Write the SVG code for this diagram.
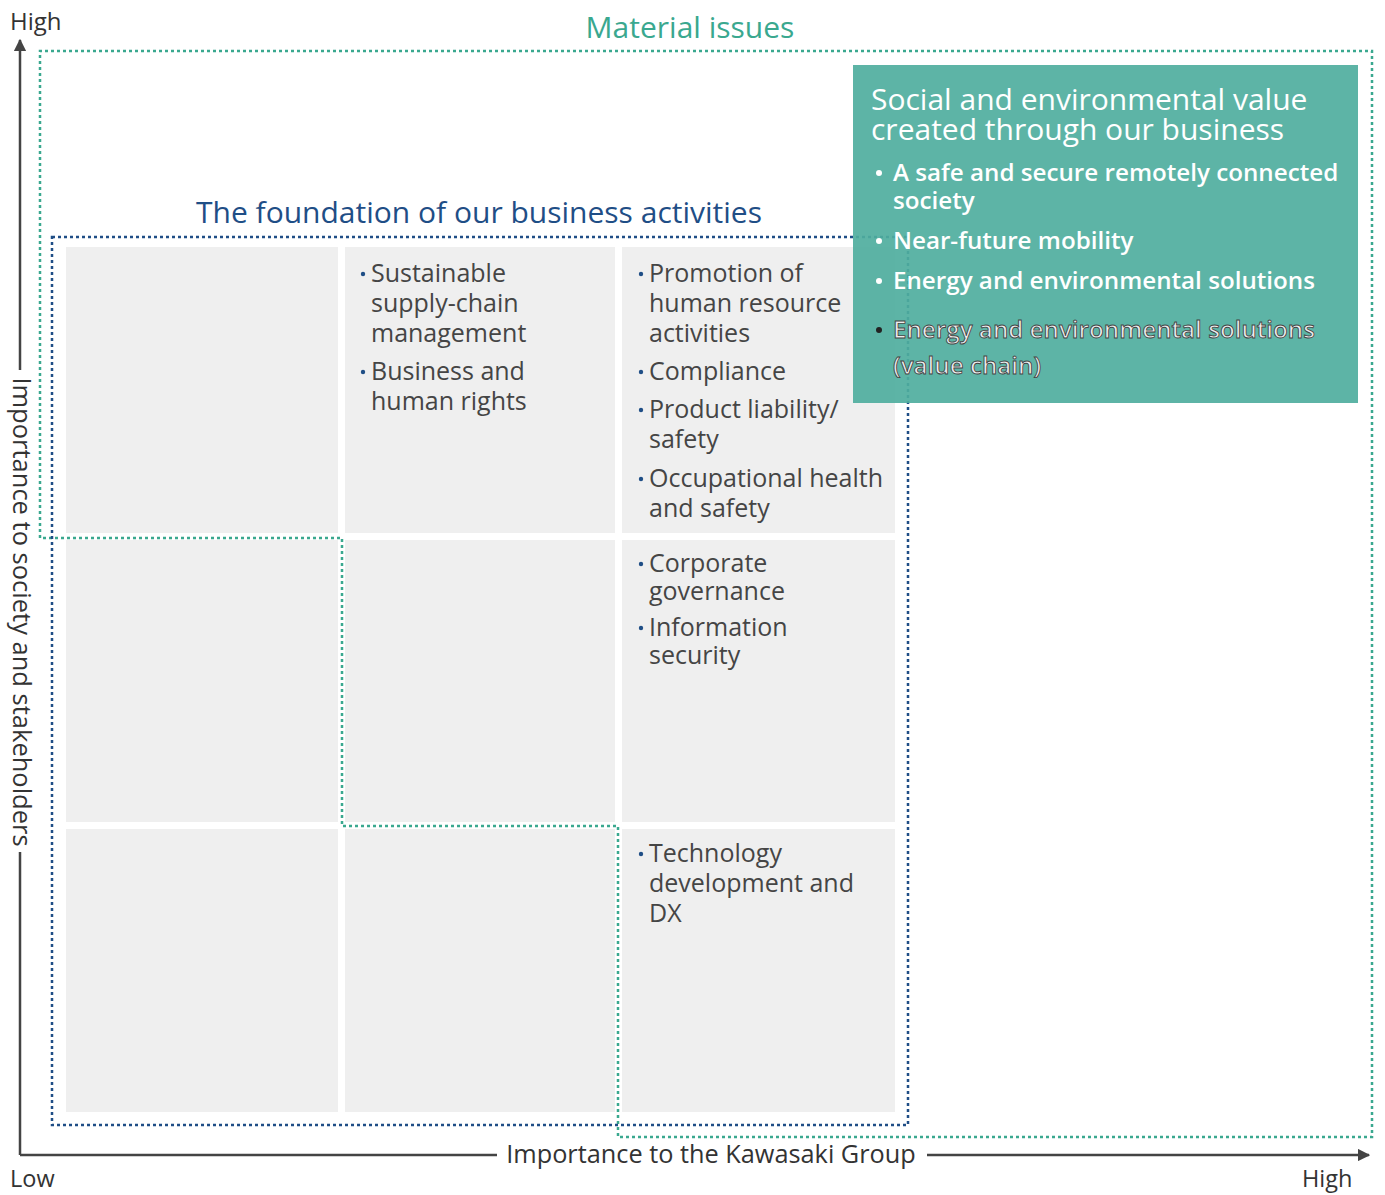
<svg xmlns="http://www.w3.org/2000/svg" width="1385" height="1195" viewBox="0 0 1385 1195">
<style>
.t{font-family:"Open Sans","Liberation Sans",Arial,sans-serif;}
.cell{fill:#efefef;}
.ct{font-family:"Open Sans","Liberation Sans",Arial,sans-serif;font-size:25px;fill:#454545;}
.bl{fill:#1f4e86;}
.gt{font-family:"Open Sans","Liberation Sans",Arial,sans-serif;fill:#ffffff;}
.gb{font-family:"Open Sans","Liberation Sans",Arial,sans-serif;fill:#ffffff;font-size:24.2px;font-weight:600;}
.axis{stroke:#444;stroke-width:2.5;fill:none;}
.gd{stroke:#3aa88f;stroke-width:2.5;fill:none;stroke-dasharray:3 3;}
.bd{stroke:#1f4e86;stroke-width:2.5;fill:none;stroke-dasharray:3 3;}
.ol{font-family:"Open Sans","Liberation Sans",Arial,sans-serif;font-size:24.2px;font-weight:600;fill:#eeeeee;stroke:#444;stroke-width:0.9;}
</style>
<defs>
<marker id="ah" viewBox="0 0 10 10" refX="9" refY="5" markerWidth="5" markerHeight="5" orient="auto" markerUnits="strokeWidth">
<path d="M0,0 L10,5 L0,10 z" fill="#444"/>
</marker>
</defs>
<rect width="1385" height="1195" fill="#ffffff"/>

<g id="cells">
<rect class="cell" x="66" y="247" width="272" height="286"/>
<rect class="cell" x="345" y="247" width="270" height="286"/>
<rect class="cell" x="622" y="247" width="273" height="286"/>
<rect class="cell" x="66" y="540" width="272" height="282"/>
<rect class="cell" x="345" y="540" width="270" height="282"/>
<rect class="cell" x="622" y="540" width="273" height="282"/>
<rect class="cell" x="66" y="829" width="272" height="283"/>
<rect class="cell" x="345" y="829" width="270" height="283"/>
<rect class="cell" x="622" y="829" width="273" height="283"/>
</g>

<g id="connectors">
<path class="axis" d="M20,1155 V852"/>
<path class="axis" d="M20,370 V40" marker-end="url(#ah)"/>
<path class="axis" d="M20,1155 H497"/>
<path class="axis" d="M927,1155 H1369" marker-end="url(#ah)"/>
</g>

<g id="material-border">
<path class="gd" d="M40,538 V51 H1372 V1137 H618 V826 H342 V538 Z"/>
</g>
<g id="foundation-border">
<rect class="bd" x="52" y="237" width="856" height="888"/>
</g>

<g id="axis-labels">
<text class="t" x="10" y="30" font-size="24" fill="#333">High</text>
<text class="t" x="10" y="1187" font-size="23.5" fill="#333">Low</text>
<text class="t" x="1302" y="1187" font-size="23.5" fill="#333">High</text>
<text class="t" x="711" y="1163" font-size="25.3" fill="#333" text-anchor="middle">Importance to the Kawasaki Group</text>
<text class="t" transform="translate(13,612) rotate(90)" font-size="25.5" fill="#333" text-anchor="middle">Importance to society and stakeholders</text>
</g>

<g id="titles">
<text class="t" x="690" y="38" font-size="30" fill="#3aa88f" text-anchor="middle">Material issues</text>
<text class="t" x="479" y="223" font-size="30" fill="#1f4e86" text-anchor="middle">The foundation of our business activities</text>
</g>

<g id="cell-r1c2">
<circle class="bl" cx="363" cy="274" r="2.2"/>
<text class="ct" x="371" y="282">Sustainable</text>
<text class="ct" x="371" y="312">supply-chain</text>
<text class="ct" x="371" y="342">management</text>
<circle class="bl" cx="363" cy="372" r="2.2"/>
<text class="ct" x="371" y="380">Business and</text>
<text class="ct" x="371" y="410">human rights</text>
</g>

<g id="cell-r1c3">
<circle class="bl" cx="641" cy="274" r="2.2"/>
<text class="ct" x="649" y="282">Promotion of</text>
<text class="ct" x="649" y="312">human resource</text>
<text class="ct" x="649" y="342">activities</text>
<circle class="bl" cx="641" cy="372" r="2.2"/>
<text class="ct" x="649" y="380">Compliance</text>
<circle class="bl" cx="641" cy="410" r="2.2"/>
<text class="ct" x="649" y="418">Product liability/</text>
<text class="ct" x="649" y="448">safety</text>
<circle class="bl" cx="641" cy="479" r="2.2"/>
<text class="ct" x="649" y="487">Occupational health</text>
<text class="ct" x="649" y="517">and safety</text>
</g>

<g id="cell-r2c3">
<circle class="bl" cx="641" cy="564" r="2.2"/>
<text class="ct" x="649" y="572">Corporate</text>
<text class="ct" x="649" y="600">governance</text>
<circle class="bl" cx="641" cy="628" r="2.2"/>
<text class="ct" x="649" y="636">Information</text>
<text class="ct" x="649" y="664">security</text>
</g>

<g id="cell-r3c3">
<circle class="bl" cx="641" cy="854" r="2.2"/>
<text class="ct" x="649" y="862">Technology</text>
<text class="ct" x="649" y="892">development and</text>
<text class="ct" x="649" y="922">DX</text>
</g>

<g id="value-box">
<rect x="853" y="65" width="505" height="338" fill="#4fae9e" fill-opacity="0.92"/>
<text class="gt" x="871" y="110" font-size="30">Social and environmental value</text>
<text class="gt" x="871" y="140" font-size="30">created through our business</text>
<circle cx="879" cy="173" r="3" fill="#fff"/>
<text class="gb" x="893" y="181">A safe and secure remotely connected</text>
<text class="gb" x="893" y="209">society</text>
<circle cx="879" cy="241" r="3" fill="#fff"/>
<text class="gb" x="893" y="249">Near-future mobility</text>
<circle cx="879" cy="281" r="3" fill="#fff"/>
<text class="gb" x="893" y="289">Energy and environmental solutions</text>
<circle cx="879" cy="330" r="3" fill="#222"/>
<text class="ol" x="893" y="338">Energy and environmental solutions</text>
<text class="ol" x="893" y="374">(value chain)</text>
</g>
</svg>
